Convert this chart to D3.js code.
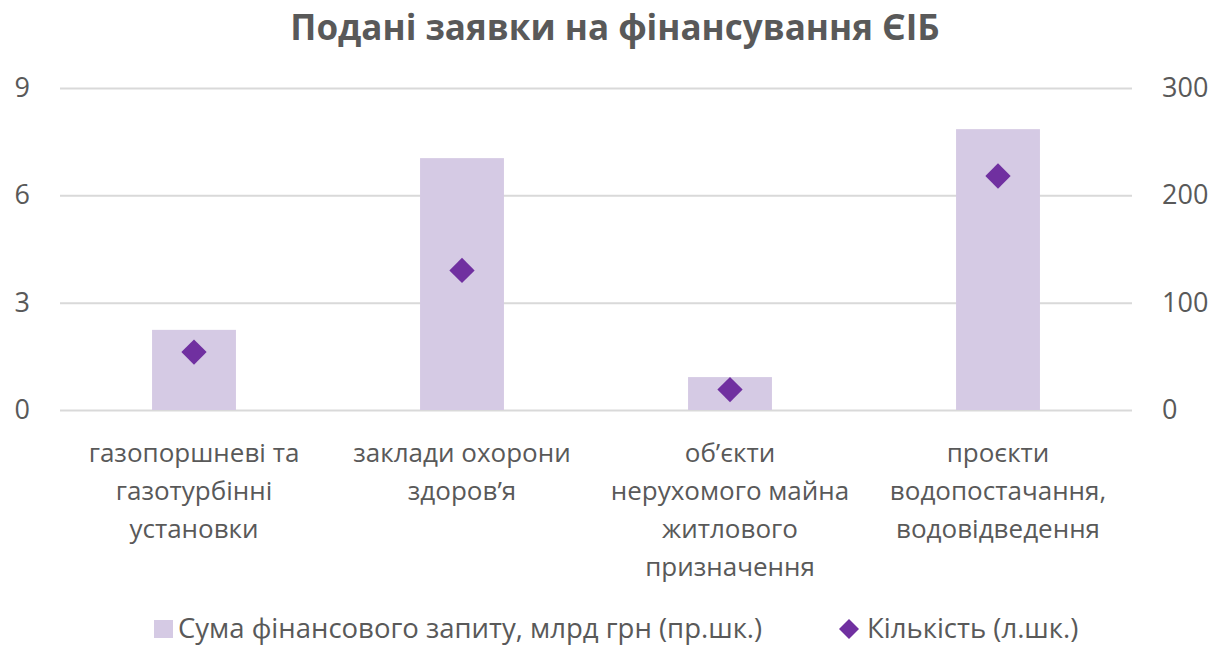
<!DOCTYPE html>
<html>
<head>
<meta charset="utf-8">
<script src="https://cdn.jsdelivr.net/npm/d3@7"></script>
<style>
  body { margin: 0; background: #fff; }
  svg text { font-family: "Open Sans", sans-serif; fill: #595959; }
</style>
</head>
<body>
<div id="chart"></div>
<script>
// chart data
const categories = [
  ["газопоршневі та", "газотурбінні", "установки"],
  ["заклади охорони", "здоров’я"],
  ["об’єкти", "нерухомого майна", "житлового", "призначення"],
  ["проєкти", "водопостачання,", "водовідведення"]
];
const amountValues = [2.24, 7.04, 0.92, 7.85];   // Сума фінансового запиту, млрд грн
const countValues = [54, 130, 19, 218];          // Кількість
const leftTicks = [0, 3, 6, 9];
const rightTicks = [0, 100, 200, 300];

const title = "Подані заявки на фінансування ЄІБ";
const legendLabels = ["Сума фінансового запиту, млрд грн (пр.шк.)", "Кількість (л.шк.)"];

const W = 1214, H = 646;
const margin = { top: 88, right: 82, bottom: 236, left: 60 };
const width = W - margin.left - margin.right;
const height = H - margin.top - margin.bottom;

const svg = d3.select("#chart").append("svg")
  .attr("width", W)
  .attr("height", H);

const g = svg.append("g")
  .attr("transform", `translate(${margin.left}, ${margin.top})`);

const x = d3.scaleBand().domain(d3.range(categories.length)).range([0, width]).paddingInner(0.687).paddingOuter(0.3435);
const yLeft = d3.scaleLinear().domain([0, 9]).range([height, 0]);
const yRight = d3.scaleLinear().domain([0, 300]).range([height, 0]);

// gridlines + left axis
const leftAxis = g.append("g")
  .call(d3.axisLeft(yLeft).tickValues(leftTicks).tickSize(-width).tickPadding(30));
leftAxis.select(".domain").remove();
leftAxis.selectAll("line").attr("stroke", "#d9d9d9").attr("stroke-width", 2);
leftAxis.selectAll("text").attr("font-size", 27).attr("fill", "#595959");

const rightAxis = g.append("g")
  .attr("transform", `translate(${width}, 0)`)
  .call(d3.axisRight(yRight).tickValues(rightTicks).tickSize(0).tickPadding(30));
rightAxis.select(".domain").remove();
rightAxis.selectAll("text").attr("font-size", 27).attr("fill", "#595959");

// bars
g.selectAll(".bar")
  .data(amountValues)
  .enter()
  .append("rect")
  .attr("class", "bar")
  .attr("x", (d, i) => x(i))
  .attr("width", x.bandwidth())
  .attr("y", d => yLeft(d))
  .attr("height", d => yLeft(0) - yLeft(d))
  .attr("fill", "#d5cae4");

// diamonds
const diamond = d3.symbol().type(d3.symbolSquare).size(320);
g.selectAll(".dot")
  .data(countValues)
  .enter()
  .append("path")
  .attr("class", "dot")
  .attr("d", diamond)
  .attr("transform", (d, i) => `translate(${x(i) + x.bandwidth() / 2}, ${yRight(d)}) rotate(45)`)
  .attr("fill", "#7030a0");

// category labels
const labels = g.selectAll(".cat")
  .data(categories)
  .enter()
  .append("text")
  .attr("class", "cat")
  .attr("text-anchor", "middle")
  .attr("font-size", 26)
  .attr("transform", (d, i) => `translate(${x(i) + x.bandwidth() / 2}, ${height + 52})`);
labels.selectAll("tspan")
  .data(d => d)
  .enter()
  .append("tspan")
  .attr("x", 0)
  .attr("y", (d, i) => i * 38)
  .text(d => d);

// title
svg.append("text")
  .attr("x", 615)
  .attr("y", 40)
  .attr("text-anchor", "middle")
  .attr("font-size", 35)
  .attr("font-weight", "bold")
  .text(title);

// legend
const legend = svg.append("g").attr("transform", "translate(0, 629)");
legend.append("rect")
  .attr("x", 154).attr("y", -9)
  .attr("width", 19).attr("height", 18)
  .attr("fill", "#d5cae4");
legend.append("text")
  .attr("x", 178).attr("y", 9)
  .attr("font-size", 27.5)
  .text(legendLabels[0]);
legend.append("path")
  .attr("d", d3.symbol().type(d3.symbolSquare).size(200))
  .attr("transform", "translate(849, 0) rotate(45)")
  .attr("fill", "#7030a0");
legend.append("text")
  .attr("x", 867).attr("y", 9)
  .attr("font-size", 27.5)
  .text(legendLabels[1]);
</script>
</body>
</html>
